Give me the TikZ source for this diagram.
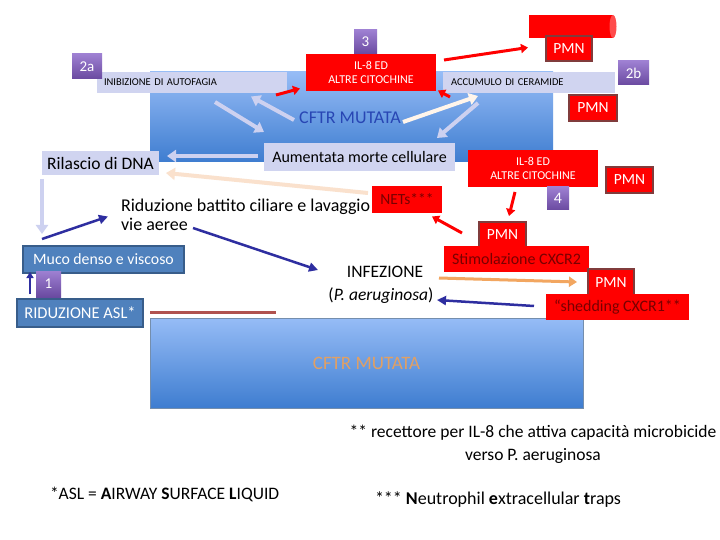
\documentclass[tikz,border=0pt]{standalone}
\usepackage{fontspec}
\setmainfont{Carlito}
\usetikzlibrary{arrows.meta,shapes.geometric}
\definecolor{lav}{RGB}{208,212,240}
\definecolor{lavarr}{RGB}{205,209,240}
\definecolor{pmnborder}{RGB}{128,60,60}
\definecolor{dred}{RGB}{120,0,0}
\definecolor{mucofill}{RGB}{79,129,189}
\definecolor{mucoborder}{RGB}{56,93,138}
\definecolor{dblue}{RGB}{46,46,160}
\definecolor{orangearr}{RGB}{242,166,96}
\definecolor{peach}{RGB}{250,225,205}
\definecolor{brownline}{RGB}{176,82,79}
\definecolor{purtop}{RGB}{158,128,210}
\definecolor{purbot}{RGB}{106,74,160}
\definecolor{bigtop}{RGB}{150,188,246}
\definecolor{bigbot}{RGB}{62,125,208}
\definecolor{cftrblue}{RGB}{40,70,180}
\definecolor{cftrorange}{RGB}{225,160,100}
\newcommand\fs[2]{\fontsize{#1}{#2}\selectfont}
\begin{document}
\begin{tikzpicture}[x=1pt,y=-1pt,
  boxbase/.style={inner sep=0pt, outer sep=0pt, align=center},
  lavbox/.style={boxbase, fill=lav, text=black},
  redbox/.style={boxbase, fill=red, text=white},
  pmnbox/.style={boxbase, fill=red, draw=pmnborder, line width=2pt, text=white, font=\fs{15.5}{15.5}},
  dredbox/.style={boxbase, fill=red, text=dred, font=\fs{16}{16}},
  purbox/.style={boxbase, top color=purtop, bottom color=purbot, text=white},
  mucobox/.style={boxbase, fill=mucofill, draw=mucoborder, line width=2pt, text=white},
  redarr/.style={draw=red, line width=3pt, -{Triangle[length=7pt,width=9pt]}},
  lavarrow/.style={draw=lavarr, line width=4pt, -{Triangle[length=9pt,width=12pt]}},
  creamarrow/.style={draw=white!92!orange, line width=4pt, -{Triangle[length=9pt,width=12pt]}},
  bluearr/.style={draw=dblue, line width=2.5pt, -{Triangle[length=9pt,width=9pt]}},
]
\useasboundingbox (0,0) rectangle (720,540);
\fill[white] (0,0) rectangle (720,540);

% big blue rectangles
\node[boxbase, top color=bigtop, bottom color=bigbot, minimum width=403, minimum height=90] (bigtopbox) at (351.5,117) {};
\node[boxbase, top color=bigtop, bottom color=bigbot, draw=mucoborder!70, line width=0.6pt, minimum width=433, minimum height=90, text=cftrorange, font=\fs{19}{19}] (bigbotbox) at (366.5,363) {CFTR MUTATA};

% top row
\node[lavbox, minimum height=21, text width=176, inner xsep=7pt, align=left, font=\fs{10.5}{10.5}] (inib) at (192,82.5) {INIBIZIONE DI AUTOFAGIA};
\node[purbox, minimum width=30, minimum height=25, font=\fs{15}{15}] (n2a) at (87,66.5) {2a};
\node[redbox, minimum width=130, minimum height=37, font=\fs{12}{14}] (il8a) at (371,72.5) {IL-8 ED\\ALTRE CITOCHINE};
\node[purbox, minimum width=23, minimum height=24, font=\fs{15}{15}] (n3) at (365.5,42) {3};
\fill[red] (529,15) rectangle (613,38);
\node[boxbase, ellipse, fill=red!70!white, minimum width=7, minimum height=23] (barcap) at (613,26.5) {};
\node[pmnbox, minimum width=46, minimum height=25] (pmn1) at (569,48.5) {PMN};
\node[lavbox, minimum height=21, text width=156, inner xsep=8pt, align=left, font=\fs{10.5}{10.5}] (accum) at (529,82.5) {ACCUMULO DI CERAMIDE};
\node[purbox, minimum width=31, minimum height=24, font=\fs{15}{15}] (n2b) at (633.5,73) {2b};
\node[pmnbox, minimum width=48, minimum height=26] (pmn2) at (593,108) {PMN};

\node[boxbase, text=cftrblue, font=\fs{18}{18}] (cftr) at (350,118) {CFTR MUTATA};
\node[lavbox, minimum width=191, minimum height=28, font=\fs{16}{16}] (aument) at (359.5,157) {Aumentata morte cellulare};
\node[lavbox, minimum width=117, minimum height=24, font=\fs{17.5}{17.5}] (rilascio) at (100.5,163) {Rilascio di DNA};

% middle right
\node[redbox, minimum width=130, minimum height=37, font=\fs{12}{14}] (il8b) at (533,168.5) {IL-8 ED\\ALTRE CITOCHINE};
\node[pmnbox, minimum width=47, minimum height=26] (pmn3) at (629.5,180) {PMN};
\node[purbox, minimum width=22, minimum height=23, font=\fs{16}{16}] (n4) at (558,198.5) {4};

\node[boxbase, anchor=north west, align=left, font=\fs{18}{19}] (ridtxt) at (121,199) {Riduzione battito ciliare e lavaggio\\vie aeree};
\node[dredbox, minimum width=70, minimum height=27, font=\fs{15.5}{15.5}] (nets) at (407,199.5) {NETs***};
\node[pmnbox, minimum width=47, minimum height=25] (pmn4) at (502.5,234.5) {PMN};
\node[dredbox, minimum width=145, minimum height=26] (stim) at (516.5,259) {Stimolazione CXCR2};
\node[pmnbox, minimum width=46, minimum height=27] (pmn5) at (611,282.5) {PMN};
\node[dredbox, minimum width=143, minimum height=26] (shed) at (617.5,307) {“shedding CXCR1**};

\node[boxbase, font=\fs{17.5}{17.5}] (infez) at (385,272) {INFEZIONE};
\node[boxbase, font=\fs{17.5}{17.5}] (paer) at (381,296) {(\textit{P. aeruginosa})};

% left column
\node[mucobox, minimum width=161, minimum height=27, font=\fs{15.8}{15.8}] (muco) at (103.5,259.5) {Muco denso e viscoso};
\node[purbox, minimum width=25, minimum height=26, font=\fs{15}{15}] (n1) at (48.5,284) {1};
\node[mucobox, minimum width=126, minimum height=28, font=\fs{16.5}{16.5}] (ridu) at (80,313) {RIDUZIONE ASL*};
\coordinate (bl1) at (150,312);
\coordinate (bl2) at (276,312);
\draw[brownline, line width=3pt] (bl1) -- (bl2);

% footnotes
\node[boxbase, font=\fs{17.5}{23}] (fn2) at (533,444.5) {** recettore per IL-8 che attiva capacità microbicide\\verso P. aeruginosa};
\node[boxbase, anchor=west, font=\fs{17.5}{17.5}] (fn1) at (50,494) {*ASL = \textbf{A}IRWAY \textbf{S}URFACE \textbf{L}IQUID};
\node[boxbase, anchor=west, font=\fs{18}{18}] (fn3) at (375,500) {*** \textbf{N}eutrophil \textbf{e}xtracellular \textbf{t}raps};

% arrow end points
\coordinate (a1s) at (276,95);  \coordinate (a1e) at (300,88.5);
\coordinate (a2s) at (450,97);  \coordinate (a2e) at (438,90.5);
\coordinate (a3s) at (444,60);  \coordinate (a3e) at (528,47.5);
\coordinate (a4s) at (215,102); \coordinate (a4e) at (264,132);
\coordinate (a5s) at (294,120); \coordinate (a5e) at (251,96.5);
\coordinate (a6s) at (403,122); \coordinate (a6e) at (478,96);
\coordinate (a7s) at (478,103); \coordinate (a7e) at (437,138);
\coordinate (a8s) at (258,156); \coordinate (a8e) at (167,156);
\coordinate (a9s) at (368,193); \coordinate (a9e) at (166,173);
\coordinate (a10s) at (42,179); \coordinate (a10e) at (42,234);
\coordinate (a11s) at (42,239); \coordinate (a11e) at (108,216.5);
\coordinate (a12s) at (193,228); \coordinate (a12e) at (318,270);
\coordinate (a13s) at (30,294); \coordinate (a13e) at (30,272);
\coordinate (a14s) at (515,192); \coordinate (a14e) at (509,216);
\coordinate (a15s) at (462,233); \coordinate (a15e) at (432,216.5);
\coordinate (a16s) at (439,278); \coordinate (a16e) at (577,282);
\coordinate (a17s) at (534,306); \coordinate (a17e) at (437,300);

\draw[redarr] (a1s) -- (a1e);
\draw[redarr] (a2s) -- (a2e);
\draw[redarr] (a3s) -- (a3e);
\draw[lavarrow] (a4s) -- (a4e);
\draw[lavarrow] (a5s) -- (a5e);
\draw[creamarrow] (a6s) -- (a6e);
\draw[lavarrow] (a7s) -- (a7e);
\draw[lavarrow] (a8s) -- (a8e);
\draw[draw=peach, line width=4pt, -{Triangle[length=9pt,width=12pt]}] (a9s) -- (a9e);
\draw[lavarrow] (a10s) -- (a10e);
\draw[bluearr] (a11s) -- (a11e);
\draw[bluearr] (a12s) -- (a12e);
\draw[bluearr, line width=2pt, -{Triangle[length=6pt,width=7pt]}] (a13s) -- (a13e);
\draw[redarr] (a14s) -- (a14e);
\draw[redarr] (a15s) -- (a15e);
\draw[draw=orangearr, line width=3pt, -{Triangle[length=8pt,width=10pt]}] (a16s) -- (a16e);
\draw[bluearr] (a17s) -- (a17e);
\end{tikzpicture}
\end{document}
